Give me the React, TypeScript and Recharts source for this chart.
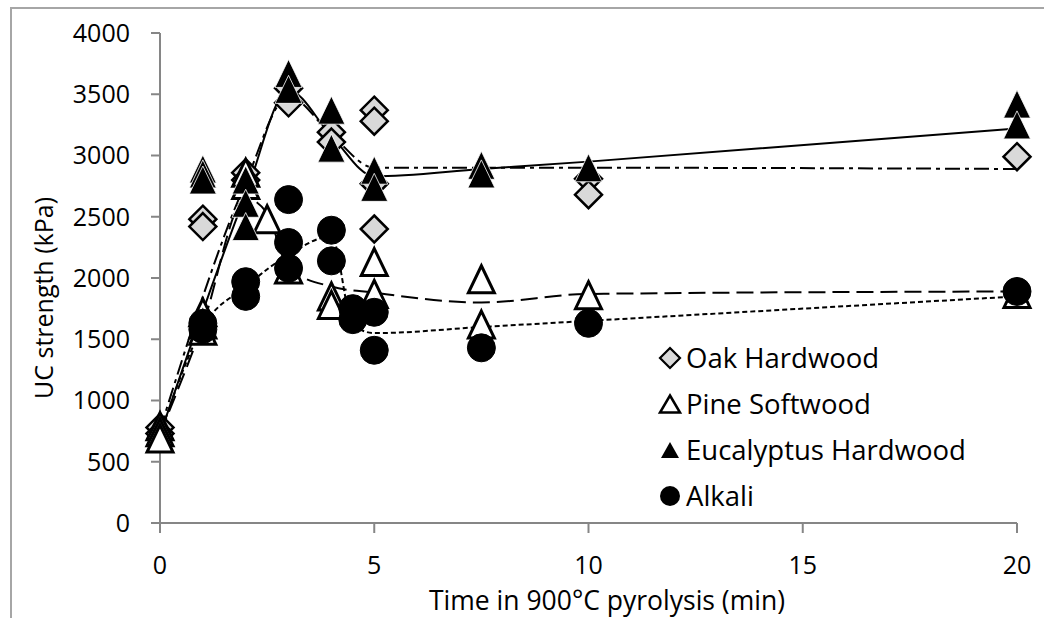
import React from 'react';
import { ComposedChart, Scatter, Line, XAxis, YAxis, Legend, Label } from 'recharts';

// ---------- axis ticks ----------
const xTicks = [0, 5, 10, 15, 20];
const yTicks = [0, 500, 1000, 1500, 2000, 2500, 3000, 3500, 4000];

// ---------- series names ----------
const seriesNames = ['Oak Hardwood', 'Pine Softwood', 'Eucalyptus Hardwood', 'Alkali'];

// ---------- measured points ----------
const oakX = [0, 0, 1, 1, 2, 2, 3, 3, 4, 4, 5, 5, 5, 5, 10, 10, 20];
const oakY = [780, 730, 2480, 2420, 2860, 2800, 3550, 3430, 3190, 3110, 3370, 3280, 2770, 2400, 2810, 2680, 2990];

const pineX = [0, 0, 0, 1, 1, 1, 2, 2, 2.5, 3, 4, 4, 5, 5, 7.5, 7.5, 10, 20];
const pineY = [790, 740, 690, 1720, 1620, 1570, 2860, 2760, 2480, 2070, 1850, 1780, 2130, 1870, 1990, 1620, 1860, 1870];

const eucX = [1, 1, 1, 2, 2, 2, 3, 3, 4, 4, 5, 5, 7.5, 7.5, 10, 20, 20];
const eucY = [2890, 2850, 2800, 2800, 2610, 2420, 3670, 3540, 3370, 3060, 2880, 2740, 2920, 2850, 2900, 3420, 3250];

const alkX = [1, 1, 2, 2, 3, 3, 3, 4, 4, 4.5, 4.5, 5, 5, 7.5, 10, 20];
const alkY = [1630, 1580, 1970, 1850, 2640, 2290, 2080, 2390, 2140, 1750, 1660, 1720, 1410, 1430, 1630, 1890];

// ---------- smoothed trend lines ----------
const oakLineX = [0, 2, 3, 4, 5, 7.5, 10, 20];
const oakLineY = [760, 2780, 3480, 3170, 2900, 2900, 2900, 2890];

const pineLineX = [0, 1, 2, 2.5, 3, 4, 5, 7.5, 10, 20];
const pineLineY = [730, 1620, 2650, 2530, 2080, 1930, 1880, 1800, 1870, 1890];

const eucLineX = [0, 2, 3, 4, 5, 7.5, 10, 20];
const eucLineY = [720, 2680, 3530, 3160, 2830, 2890, 2950, 3220];

const alkLineX = [0, 1, 2, 3, 4, 4.5, 5, 7.5, 10, 20];
const alkLineY = [720, 1600, 1930, 2190, 2340, 1620, 1550, 1600, 1650, 1850];

const zip = (xs: number[], ys: number[]) => xs.map((x, i) => ({ x, y: ys[i] }));

const oakData = zip(oakX, oakY);
const pineData = zip(pineX, pineY);
const eucData = zip(eucX, eucY);
const alkData = zip(alkX, alkY);

const oakLine = zip(oakLineX, oakLineY);
const pineLine = zip(pineLineX, pineLineY);
const eucLine = zip(eucLineX, eucLineY);
const alkLine = zip(alkLineX, alkLineY);

// ---------- marker shapes ----------
const Diamond = (props: any) => {
  const { cx, cy } = props;
  const r = 13.5;
  return (
    <path
      d={`M${cx},${cy - r}L${cx + r},${cy}L${cx},${cy + r}L${cx - r},${cy}Z`}
      fill="#d9d9d9"
      stroke="#000"
      strokeWidth={2.5}
    />
  );
};

const triPath = (cx: number, cy: number, hw: number, hh: number) =>
  `M${cx},${cy - hh}L${cx + hw},${cy + hh}L${cx - hw},${cy + hh}Z`;

const WhiteTri = (props: any) => {
  const { cx, cy } = props;
  return <path d={triPath(cx, cy, 13, 13.5)} fill="#fff" stroke="#000" strokeWidth={3} strokeLinejoin="miter" />;
};

const BlackTri = (props: any) => {
  const { cx, cy } = props;
  return <path d={triPath(cx, cy, 13.5, 14)} fill="#000" stroke="#fff" strokeWidth={0.8} />;
};

const Dot = (props: any) => {
  const { cx, cy } = props;
  return <circle cx={cx} cy={cy} r={14} fill="#000" stroke="#000" strokeWidth={1} />;
};

// ---------- legend ----------
const legendIcon = (i: number) => {
  if (i === 0)
    return <path d="M15,5L25,15L15,25L5,15Z" fill="#d9d9d9" stroke="#000" strokeWidth={2.2} />;
  if (i === 1) return <path d="M15,6.5L25,23.5L5,23.5Z" fill="#fff" stroke="#000" strokeWidth={2.5} />;
  if (i === 2) return <path d="M15,7L24,23L6,23Z" fill="#000" />;
  return <circle cx={15} cy={15} r={10} fill="#000" />;
};

const renderLegend = () => (
  <div style={{ fontFamily: "'Open Sans', sans-serif" }}>
    {seriesNames.map((name, i) => (
      <div key={name} style={{ height: 46, display: 'flex', alignItems: 'center' }}>
        <svg width={30} height={30} style={{ display: 'block' }}>
          {legendIcon(i)}
        </svg>
        <span style={{ fontSize: 27.5, color: '#000', marginLeft: 1, lineHeight: '46px', whiteSpace: 'nowrap' }}>{name}</span>
      </div>
    ))}
  </div>
);

const axisColor = '#868686';

export default function App() {
  return (
    <div
      style={{
        position: 'fixed',
        left: 0,
        top: 0,
        width: 1044,
        height: 618,
        background: '#fff',
        overflow: 'hidden',
        fontFamily: "'Open Sans', sans-serif",
      }}
    >
      <div
        style={{
          position: 'absolute',
          left: 10,
          top: 7,
          width: 1100,
          height: 700,
          border: '2px solid #a6a6a6',
          boxSizing: 'border-box',
        }}
      />
      <div style={{ position: 'absolute', left: 0, top: 0 }}>
        <ComposedChart width={1044} height={618} margin={{ top: 33, right: 27, bottom: 0, left: 0 }}>
          <XAxis
            type="number"
            dataKey="x"
            domain={[0, 20]}
            ticks={xTicks}
            interval={0}
            height={95}
            tickSize={10}
            tickMargin={23}
            axisLine={{ stroke: axisColor, strokeWidth: 2 }}
            tickLine={{ stroke: axisColor, strokeWidth: 2 }}
            tick={{ fill: '#000', fontSize: 25, fontFamily: "'Open Sans', sans-serif" }}
          >
            <Label
              content={() => (
                <text
                  x={607}
                  y={610}
                  textAnchor="middle"
                  fontSize={26.5}
                  fill="#000"
                  fontFamily="'Open Sans', sans-serif"
                >
                  Time in 900°C pyrolysis (min)
                </text>
              )}
            />
          </XAxis>
          <YAxis
            type="number"
            dataKey="y"
            domain={[0, 4000]}
            ticks={yTicks}
            interval={0}
            width={160}
            tickSize={9}
            tickMargin={21}
            axisLine={{ stroke: axisColor, strokeWidth: 2 }}
            tickLine={{ stroke: axisColor, strokeWidth: 2 }}
            tick={{ fill: '#000', fontSize: 25, fontFamily: "'Open Sans', sans-serif" }}
          >
            <Label
              content={() => (
                <text
                  x={43}
                  y={298}
                  transform="rotate(-90 43 298)"
                  textAnchor="middle"
                  dominantBaseline="central"
                  fontSize={25}
                  fill="#000"
                  fontFamily="'Open Sans', sans-serif"
                >
                  UC strength (kPa)
                </text>
              )}
            />
          </YAxis>
          <Legend
            layout="vertical"
            align="center"
            verticalAlign="middle"
            content={renderLegend}
            wrapperStyle={{ left: 655, top: 335, width: 380, height: 185 }}
          />
          <Scatter name={seriesNames[0]} data={oakData} dataKey="y" shape={Diamond} isAnimationActive={false} />
          <Scatter name={seriesNames[1]} data={pineData} dataKey="y" shape={WhiteTri} isAnimationActive={false} />
          <Scatter name={seriesNames[2]} data={eucData} dataKey="y" shape={BlackTri} isAnimationActive={false} />
          <Scatter name={seriesNames[3]} data={alkData} dataKey="y" shape={Dot} isAnimationActive={false} />
          <Line
            data={oakLine}
            dataKey="y"
            type="monotone"
            stroke="#000"
            strokeWidth={2}
            strokeDasharray="15 5 4 5"
            dot={false}
            activeDot={false}
            legendType="none"
            isAnimationActive={false}
          />
          <Line
            data={pineLine}
            dataKey="y"
            type="monotone"
            stroke="#000"
            strokeWidth={2}
            strokeDasharray="17 7"
            dot={false}
            activeDot={false}
            legendType="none"
            isAnimationActive={false}
          />
          <Line
            data={eucLine}
            dataKey="y"
            type="monotone"
            stroke="#000"
            strokeWidth={2}
            dot={false}
            activeDot={false}
            legendType="none"
            isAnimationActive={false}
          />
          <Line
            data={alkLine}
            dataKey="y"
            type="monotone"
            stroke="#000"
            strokeWidth={2}
            strokeDasharray="5 3"
            dot={false}
            activeDot={false}
            legendType="none"
            isAnimationActive={false}
          />
        </ComposedChart>
      </div>
    </div>
  );
}
